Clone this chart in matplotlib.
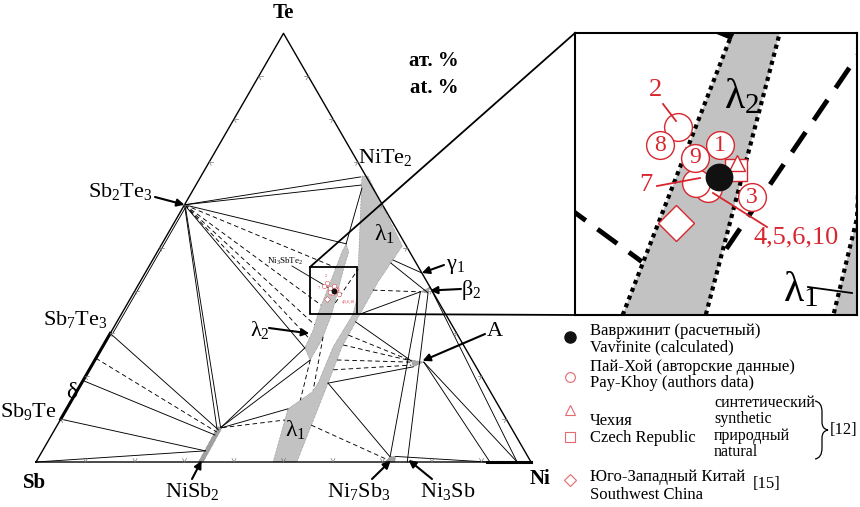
import numpy as np
import matplotlib.pyplot as plt
from matplotlib.patches import Polygon, Rectangle, PathPatch
from matplotlib.path import Path

plt.rcParams['font.family'] = ['Liberation Serif', 'DejaVu Serif']
plt.rcParams['mathtext.fontset'] = 'custom'
plt.rcParams['mathtext.rm'] = 'Liberation Serif'
plt.rcParams['mathtext.it'] = 'Liberation Serif:italic'
plt.rcParams['mathtext.bf'] = 'Liberation Serif:bold'

# compositions in at.% as (Ni, Te); Sb = 100 - Ni - Te
lam1_ni = [32.5, 45.7, 46.8, 46.6, 47.8, 47.6, 44.7, 47.9, 52.7, 49.8, 48.4, 48.2, 48.1, 48.8, 33.7]
lam1_te = [66.7, 38.3, 34.5, 26.8, 18.4, 16.3, 12.4, 0.0, 0.0, 18.4, 26.8, 34.5, 42.0, 50.4, 66.7]
lam2_ni = [37.2, 37.3, 37.9, 39.7, 40.6, 41.0, 43.5, 43.5, 42.5, 39.5, 38.7]
lam2_te = [50.9, 49.0, 45.5, 34.5, 30.8, 26.6, 23.8, 28.5, 34.5, 45.5, 49.0]
nisb2_ni = [32.8, 33.8, 33.6, 32.6]
nisb2_te = [0.0, 0.0, 8.2, 8.2]
ni7sb3_ni = [70.5, 72.5, 72.0, 70.9]
ni7sb3_te = [0.0, 0.0, 1.3, 1.3]
phase_a_ni = [63.9, 66.7, 65.1]
phase_a_te = [23.8, 23.3, 22.2]
beta2_ni = [57.8, 59.2, 59.5]
beta2_te = [39.7, 40.8, 39.4]

solid_ties = [
    ((0, 60), (32.3, 66.5)), ((0, 60), (33.4, 64.6)), ((0, 60), (37.2, 50.9)),
    ((0, 60), (41.0, 26.6)), ((0, 60), (32.6, 7.9)), ((0.5, 59.4), (33.3, 8.0)),
    ((0.5, 59.4), (0.5, 30.2)), ((37.2, 50.9), (33.9, 63.9)),
    ((0, 0), (32.9, 2.6)), ((0, 10), (32.9, 2.6)), ((0, 19), (33.0, 6.3)), ((0, 30), (33.1, 7.5)),
    ((33.4, 8.2), (41.0, 26.6)), ((33.4, 8.2), (43.5, 23.8)), ((33.5, 8.0), (44.7, 12.4)),
    ((48.6, 47.1), (55.9, 44.1)), ((48.5, 46.4), (59.4, 39.5)), ((48.2, 34.5), (57.8, 39.7)),
    ((48.2, 32.7), (64.0, 23.6)), ((49.8, 18.4), (65.1, 22.2)), ((49.8, 18.4), (70.8, 1.3)),
    ((57.8, 39.7), (70.9, 1.3)), ((59.5, 39.4), (75.0, 0)), ((59.2, 40.8), (97.2, 0)),
    ((66.7, 23.3), (91.7, 0)), ((66.7, 23.3), (97.2, 0)), ((72.0, 1.3), (91.1, 0)),
]
dashed_ties = [
    ((0, 60), (38.0, 45.3)), ((0, 60), (39.3, 36.6)), ((0, 60), (40.3, 32.0)), ((0, 60), (40.8, 28.8)),
    ((41.9, 37.1), (42.6, 45.0)), ((43.4, 29.2), (47.6, 16.8)), ((43.5, 23.8), (46.2, 14.4)),
    ((48.0, 40.1), (57.8, 39.7)),
    ((48.3, 29.6), (64.0, 23.6)), ((48.4, 27.3), (64.0, 23.6)), ((48.9, 23.8), (64.0, 23.3)),
    ((49.3, 21.5), (64.5, 22.6)),
    ((33.6, 8.0), (45.4, 9.8)), ((0, 24.2), (33.0, 7.0)), ((51.3, 8.6), (70.6, 0.6)),
]

# Pay-Khoy analyses (circles), drawing order
pk_ni = [37.9, 40.1, 39.6, 41.75, 37.65, 39.08, 39.67]
pk_te = [41.83, 39.46, 39.65, 39.11, 41.13, 40.63, 41.13]
pk_num = ['2', '4,5,6,10', '7', '3', '8', '9', '1']
vav = (40.26, 39.89)
cz_syn = (40.6, 40.43)
cz_nat = (40.7, 40.16)
china = (39.7, 38.09)

S3 = np.sqrt(3) / 2
RED = '#d7262e'
GREY = '#c2c2c2'


def tern(ni, te):
    ni = np.asarray(ni, float) / 100
    te = np.asarray(te, float) / 100
    return ni + te / 2, te * S3


def P(px, py):
    # position on the picture (pixels) -> main axes coordinates
    return (px - 36) / 495, (462 - py) / 495


fig = plt.figure(figsize=(8.6, 5.07), dpi=100)
ax = fig.add_axes([0, 0, 1, 1])
ax.set_xlim(-36 / 495, 824 / 495)
ax.set_ylim(-45 / 495, 462 / 495)
ax.axis('off')

# phases
for ni, te, c in [(lam1_ni, lam1_te, GREY), (lam2_ni, lam2_te, GREY), (nisb2_ni, nisb2_te, '#a0a0a0'),
                  (ni7sb3_ni, ni7sb3_te, '#a0a0a0'), (phase_a_ni, phase_a_te, '#a8a8a8'),
                  (beta2_ni, beta2_te, '#a8a8a8')]:
    ax.add_patch(Polygon(np.column_stack(tern(ni, te)), closed=True, fc=c, ec='#555555',
                         lw=0.4, ls=':', zorder=1))

for a, b in solid_ties:
    x, y = tern([a[0], b[0]], [a[1], b[1]])
    ax.plot(x, y, color='k', lw=0.65, zorder=2)
for a, b in dashed_ties:
    x, y = tern([a[0], b[0]], [a[1], b[1]])
    ax.plot(x, y, color='k', lw=0.65, dashes=(5, 3.5), zorder=2)

# triangle
x, y = tern([0, 100, 0, 0], [0, 0, 100, 0])
ax.plot(x, y, color='k', lw=1.0, zorder=3)
x, y = tern([0, 0], [10, 30])
ax.plot(x, y, color='k', lw=2.2, zorder=3)
x, y = tern([91.1, 100], [0, 0])
ax.plot(x, y, color='k', lw=2.2, zorder=3)

# ticks every 10 %
L = 0.008
for k in range(1, 10):
    edges = [(tern(10 * k, 0), [(0.5, S3), (-0.5, S3)]),
             (tern(0, 10 * k), [(1, 0), (0.5, -S3)]),
             (tern(100 - 10 * k, 10 * k), [(-1, 0), (-0.5, -S3)])]
    for (px0, py0), dirs in edges:
        for dx, dy in dirs:
            ax.plot([px0, px0 + L * dx], [py0, py0 + L * dy], color='#777777', lw=0.5, zorder=3)

# inset box and connectors
bx0, by0 = P(310, 314)
bx1, by1 = P(357, 267)
ax.add_patch(Rectangle((bx0, by0), bx1 - bx0, by1 - by0, fill=False, ec='k', lw=1.3, zorder=4))

ins = fig.add_axes([575 / 860, 192 / 507, 282 / 860, 282 / 507])
bb = ins.get_position()
inv = ax.transData.inverted()
tl = inv.transform(fig.transFigure.transform((bb.x0, bb.y1)))
bl = inv.transform(fig.transFigure.transform((bb.x0, bb.y0)))
ax.plot([bx0, tl[0]], [by1, tl[1]], color='k', lw=1.3, zorder=4)
ax.plot([bx1, bl[0]], [by0, bl[1]], color='k', lw=1.3, zorder=4)


def draw_points(a, scale, zo):
    mew = max(1.0 * scale, 0.3)
    for n, t in zip(pk_ni, pk_te):
        x, y = tern(n, t)
        a.plot(x, y, 'o', ms=20 * scale, mfc='white', mec=RED, mew=mew, zorder=zo)
    x, y = tern(*cz_nat)
    a.plot(x, y, 's', ms=15.8 * scale, mfc='white', mec=RED, mew=mew, zorder=zo)
    x, y = tern(*cz_syn)
    a.plot(x, y, '^', ms=12 * scale, mfc='white', mec=RED, mew=mew, zorder=zo)
    x, y = tern(*china)
    a.plot(x, y, 'D', ms=18 * scale, mfc='white', mec=RED, mew=mew, zorder=zo)
    x, y = tern(*vav)
    a.plot(x, y, 'o', ms=19 * scale, color='#111111', zorder=zo + 1)


# tiny markers in main box
draw_points(ax, 1 / 6, 5)
ax.text(*P(348, 302), '4,5,6,10', fontsize=3, color=RED, ha='center', va='center', zorder=6)
ax.text(*P(319, 288), '7', fontsize=3, color=RED, ha='center', va='center', zorder=6)
ax.text(*P(326, 276), '2', fontsize=3, color=RED, ha='center', va='center', zorder=6)

# inset content
ins.set_xlim(bx0, bx1)
ins.set_ylim(by0, by1)
ins.set_xticks([])
ins.set_yticks([])
for s in ins.spines.values():
    s.set_linewidth(1.5)
for ni, te in [(lam1_ni, lam1_te), (lam2_ni, lam2_te)]:
    ins.add_patch(Polygon(np.column_stack(tern(ni, te)), closed=True, fc=GREY, ec='k',
                          lw=3, ls=(0, (1, 1)), zorder=1))
for a, b in dashed_ties:
    x, y = tern([a[0], b[0]], [a[1], b[1]])
    ins.plot(x, y, color='k', lw=3.5, dashes=(5, 3), zorder=2)
draw_points(ins, 1.0, 5)
x, y = tern(pk_ni, pk_te)
for xi, yi, lab in zip(x, y, pk_num):
    if lab in ('8', '9', '1', '3'):
        ins.text(xi, yi, lab, fontsize=17, color=RED, ha='center', va='center', zorder=6)


def fx(ix, iy):
    return (ix - 575) / 282, 1 - (iy - 33) / 282


for lab, pos, l0, l1 in [('2', (655, 90), (663, 104), (676, 121)),
                         ('7', (646, 185), (657, 186), (700, 178)),
                         ('4,5,6,10', (796, 237), (713, 193), (767, 227))]:
    ins.text(*fx(*pos), lab, transform=ins.transAxes, fontsize=19, color=RED,
             ha='center', va='center', zorder=7)
    ins.plot(*zip(fx(*l0), fx(*l1)), transform=ins.transAxes, color=RED, lw=1.3, zorder=7)
ins.text(*fx(742, 97), r'$\mathregular{λ_2}$', transform=ins.transAxes, fontsize=30,
         ha='center', va='center', zorder=7)
ins.text(*fx(801, 290), r'$\mathregular{λ_1}$', transform=ins.transAxes, fontsize=30,
         ha='center', va='center', zorder=7)
ins.plot(*zip(fx(808, 287), fx(852, 293)), transform=ins.transAxes, color='k', lw=1.3, zorder=7)

# labels of the main diagram
ax.text(*P(283, 13), 'Te', fontsize=15, fontweight='bold', ha='center', va='center')
ax.text(*P(34, 483), 'Sb', fontsize=15, fontweight='bold', ha='center', va='center')
ax.text(*P(540, 479), 'Ni', fontsize=15, fontweight='bold', ha='center', va='center')
ax.text(*P(434, 61), 'ат. %', fontsize=15, fontweight='bold', ha='center', va='center')
ax.text(*P(434, 88), 'at. %', fontsize=15, fontweight='bold', ha='center', va='center')
ax.text(*P(358, 158), r'$\mathregular{NiTe_2}$', fontsize=16, ha='left', va='center')
ax.text(*P(108, 320), r'$\mathregular{Sb_7Te_3}$', fontsize=16, ha='right', va='center')
ax.text(*P(57, 412), r'$\mathregular{Sb_9Te}$', fontsize=16, ha='right', va='center')
ax.text(*P(72, 393), 'δ', fontsize=17, ha='center', va='center')
ax.text(*P(384, 234), r'$\mathregular{λ_1}$', fontsize=17, ha='center', va='center')
ax.text(*P(295, 430), r'$\mathregular{λ_1}$', fontsize=17, ha='center', va='center')
ax.text(*P(285, 261), r'$\mathregular{Ni_3SbTe_2}$', fontsize=6.5, ha='center', va='center')
ax.plot(*zip(P(292, 266), tern(*vav)), color='k', lw=0.6, zorder=4)

arrow = dict(arrowstyle='-|>', color='k', lw=1.5, mutation_scale=11, shrinkA=0, shrinkB=0)
for txt, tpos, tail, tip, ha in [
        (r'$\mathregular{Sb_2Te_3}$', (153, 192), (155, 197), tern(0, 60), 'right'),
        (r'$\mathregular{NiSb_2}$', (192, 492), (192, 479), tern(33.3, 0.3), 'center'),
        (r'$\mathregular{Ni_7Sb_3}$', (359, 491), (372, 479), tern(71.5, 0.3), 'center'),
        (r'$\mathregular{Ni_3Sb}$', (448, 491), (432, 479), tern(75.0, 0.5), 'center'),
        (r'$\mathregular{λ_2}$', (260, 330), (269, 328), tern(40.2, 30.0), 'center'),
        (r'$\mathregular{γ_1}$', (455, 267), (444, 265), tern(55.9, 44.1), 'center'),
        (r'$\mathregular{β_2}$', (471, 290), (461, 289), tern(59.6, 40.0), 'center'),
        ('A', (495, 331), (485, 334), tern(66.3, 23.6), 'center')]:
    ax.text(*P(*tpos), txt, fontsize=16, ha=ha, va='center')
    ax.annotate('', xy=tip, xytext=P(*tail), arrowprops=arrow)

# legend
LRED = '#e26a70'
ax.plot(*P(570, 337), 'o', ms=8, color='#111111')
ax.plot(*P(570, 377), 'o', ms=7, mfc='none', mec=LRED, mew=0.8)
ax.plot(*P(570, 410), '^', ms=6.5, mfc='none', mec=LRED, mew=0.8)
ax.plot(*P(570, 437), 's', ms=6.5, mfc='none', mec=LRED, mew=0.8)
ax.plot(*P(570, 480), 'D', ms=6, mfc='none', mec=LRED, mew=0.8)
for txt, px, py, fs in [('Вавржинит (расчетный)', 590, 331, 12), ('Vavřinite (calculated)', 590, 347, 12),
                        ('Пай-Хой (авторские данные)', 590, 367, 12), ('Pay-Khoy (authors data)', 590, 383, 12),
                        ('Чехия', 590, 421, 12), ('Czech Republic', 590, 438, 12),
                        ('синтетический', 714, 403, 11.5), ('synthetic', 714, 419, 11.5),
                        ('природный', 714, 436, 11.5), ('natural', 714, 452, 11.5),
                        ('[12]', 830, 430, 12),
                        ('Юго-Западный Китай', 590, 477, 12), ('Southwest China', 590, 495, 12),
                        ('[15]', 753, 484, 12)]:
    ax.text(*P(px, py), txt, fontsize=fs, ha='left', va='center')

# brace for [12]
brace = [(815, 401), (822, 402), (822, 412), (822, 422), (822, 429), (828, 430),
         (822, 431), (822, 438), (822, 448), (822, 458), (815, 459)]
codes = [Path.MOVETO, Path.CURVE3, Path.CURVE3, Path.LINETO, Path.CURVE3, Path.CURVE3,
         Path.CURVE3, Path.CURVE3, Path.LINETO, Path.CURVE3, Path.CURVE3]
ax.add_patch(PathPatch(Path([P(*v) for v in brace], codes), fill=False, ec='k', lw=0.9))

plt.savefig('out.png', dpi=100)
